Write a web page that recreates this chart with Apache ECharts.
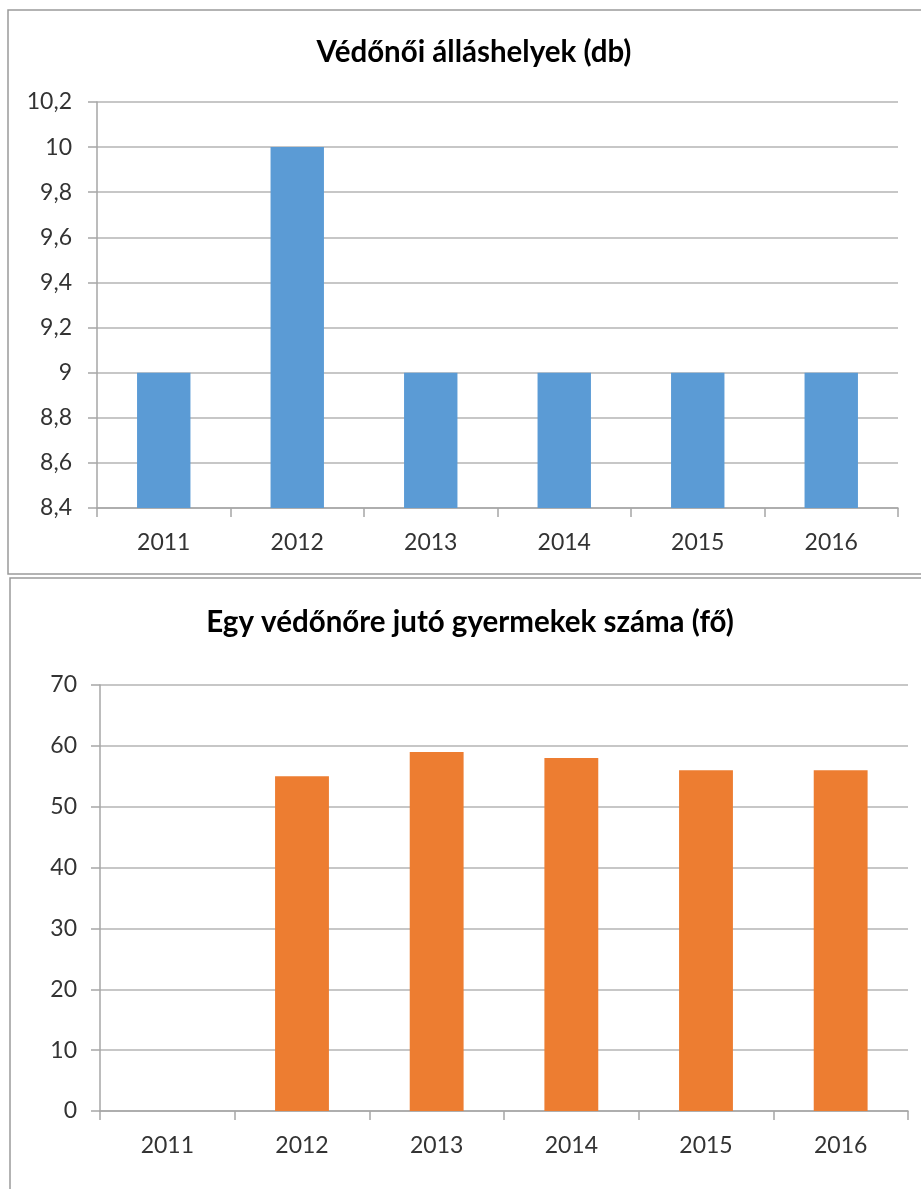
<!DOCTYPE html>
<html><head><meta charset="utf-8">
<script src="https://cdn.jsdelivr.net/npm/echarts@6/dist/echarts.min.js"></script>
<style>html,body{margin:0;padding:0;background:#fff}#c{width:921px;height:1189px}</style>
</head><body><div id="c"></div>
<script>
const categories = ['2011','2012','2013','2014','2015','2016'];
const allashelyek = [9, 10, 9, 9, 9, 9];
const gyermekek = [null, 55, 59, 58, 56, 56];
const title1 = 'Védőnői álláshelyek (db)';
const title2 = 'Egy védőnőre jutó gyermekek száma (fő)';

const FONT = 'Lato';
const txt = '#333333';
const fmt = v => String(Math.round(v * 10) / 10).replace('.', ',');
const chart = echarts.init(document.getElementById('c'));
function xAx(gi) {
  return {
    type: 'category', gridIndex: gi, data: categories,
    axisLine: {lineStyle: {color: '#a6a6a6', width: 1.5}},
    axisTick: {show: true, length: 9, lineStyle: {color: '#a6a6a6', width: 1.5}},
    axisLabel: {color: txt, fontFamily: FONT, fontSize: 23, margin: 23}
  };
}
function yAx(gi, min, max, interval, margin) {
  return {
    type: 'value', gridIndex: gi, min, max, interval,
    axisLine: {show: true, lineStyle: {color: '#a6a6a6', width: 1.5}},
    axisTick: {show: true, length: 9, lineStyle: {color: '#a6a6a6', width: 1.5}},
    splitLine: {lineStyle: {color: '#b5b5b5', width: 1.5}},
    axisLabel: {color: txt, fontFamily: FONT, fontSize: 23, margin, formatter: fmt}
  };
}
chart.setOption({
  animation: false,
  title: [
    {text: title1, left: 469, textAlign: 'center', top: 32, textStyle: {fontFamily: FONT, fontSize: 29.5, fontWeight: 'bold', color: '#000'}},
    {text: title2, left: 465, textAlign: 'center', top: 602, textStyle: {fontFamily: FONT, fontSize: 29.5, fontWeight: 'bold', color: '#000'}}
  ],
  graphic: [
    {type: 'rect', shape: {x: 8, y: 10, width: 930, height: 564}, style: {fill: 'none', stroke: '#9a9a9a', lineWidth: 1.5}, z: -1},
    {type: 'rect', shape: {x: 10, y: 578, width: 930, height: 640}, style: {fill: 'none', stroke: '#9a9a9a', lineWidth: 1.5}, z: -1}
  ],
  grid: [
    {left: 97, top: 102, width: 801, height: 406},
    {left: 100, top: 685, width: 808, height: 426}
  ],
  xAxis: [xAx(0), xAx(1)],
  yAxis: [yAx(0, 8.4, 10.2, 0.2, 25), yAx(1, 0, 70, 10, 23)],
  series: [
    {type: 'bar', xAxisIndex: 0, yAxisIndex: 0, data: allashelyek, barWidth: '40%', itemStyle: {color: '#5B9BD5'}},
    {type: 'bar', xAxisIndex: 1, yAxisIndex: 1, data: gyermekek, barWidth: '40%', itemStyle: {color: '#ED7D31'}}
  ]
});
</script></body></html>
